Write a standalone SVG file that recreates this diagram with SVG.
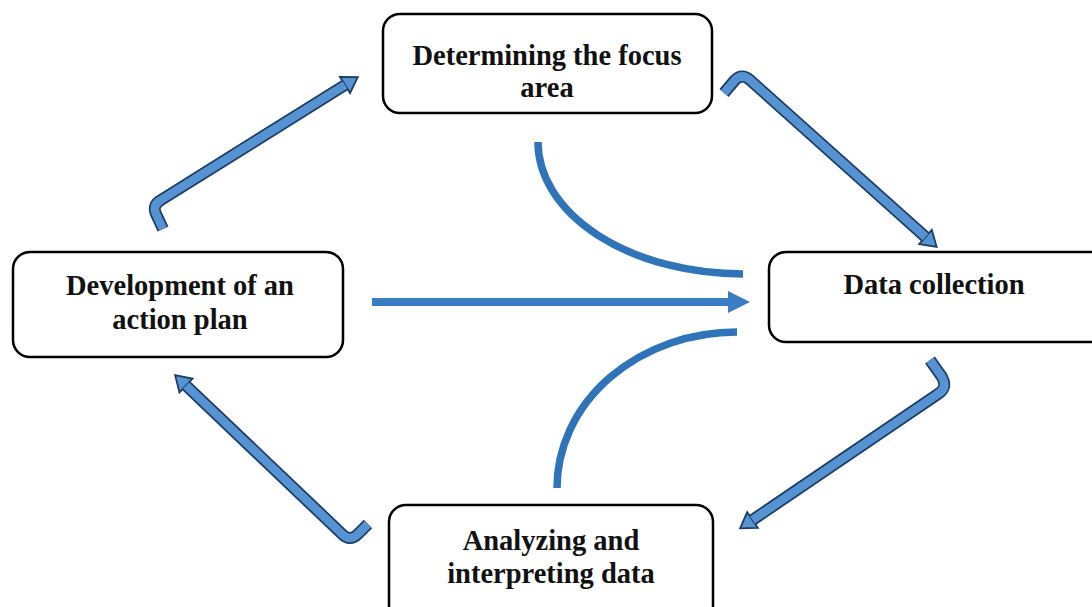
<svg xmlns="http://www.w3.org/2000/svg" width="1092" height="607" viewBox="0 0 1092 607">
<style>
.box{fill:#fff;stroke:#000;stroke-width:2.5}
.lbl{font-family:"Liberation Serif","Times New Roman",serif;font-weight:bold;font-size:28.5px;fill:#111;text-anchor:middle}
.out{fill:none;stroke:#1d3d63;stroke-width:12;stroke-linejoin:round}
.in{fill:none;stroke:#5593d3;stroke-width:8.5;stroke-linejoin:round}
.curve{fill:none;stroke:#2f73b8;stroke-width:7.5}
</style>
<defs>
<marker id="head" markerUnits="userSpaceOnUse" viewBox="-2 -12 21 24" markerWidth="21" markerHeight="24" refX="0" refY="0" orient="auto">
<path d="M0,-9.5 L15,0 L0,9.5 z" fill="#5593d3" stroke="#1d3d63" stroke-width="1.8" stroke-linejoin="miter"/>
</marker>
</defs>
<rect width="1092" height="607" fill="#fff"/>
<g id="connectors">
<path class="out" d="M163,229 L156,214 Q152,205 161,200 L345,85" marker-end="url(#head)"/>
<path class="in" d="M163,229 L156,214 Q152,205 161,200 L345,85"/>
<path class="out" d="M724,93 L735,80 Q742,73 750,80 L925.5,237" marker-end="url(#head)"/>
<path class="in" d="M724,93 L735,80 Q742,73 750,80 L925.5,237"/>
<path class="out" d="M930,360 L942,377 Q948,388 938,394 L752.5,520" marker-end="url(#head)"/>
<path class="in" d="M930,360 L942,377 Q948,388 938,394 L752.5,520"/>
<path class="out" d="M368,524 L358,534 Q350,542 342,534 L186,385.5" marker-end="url(#head)"/>
<path class="in" d="M368,524 L358,534 Q350,542 342,534 L186,385.5"/>
<path d="M372,302 L729,302" stroke="#3a7dc3" stroke-width="8" fill="none"/>
<polygon points="728,291 750,302 728,313" fill="#3a7dc3"/>
<path class="curve" d="M538,142 A205,132 0 0 0 743,274"/>
<path class="curve" d="M557,488 A180,156 0 0 1 737,332"/>
</g>
<g id="node-focus">
<rect class="box" x="383" y="14" width="329" height="99" rx="17"/>
<text class="lbl" x="547" y="65">Determining the focus</text>
<text class="lbl" x="547" y="97">area</text>
</g>
<g id="node-data">
<rect class="box" x="769" y="252" width="340" height="90" rx="17"/>
<text class="lbl" x="934" y="294">Data collection</text>
</g>
<g id="node-analyze">
<rect class="box" x="389" y="505" width="324" height="120" rx="17"/>
<text class="lbl" x="551" y="550">Analyzing and</text>
<text class="lbl" x="551" y="583">interpreting data</text>
</g>
<g id="node-plan">
<rect class="box" x="13" y="252" width="330" height="105" rx="17"/>
<text class="lbl" x="180" y="295">Development of an</text>
<text class="lbl" x="180" y="329">action plan</text>
</g>
</svg>
